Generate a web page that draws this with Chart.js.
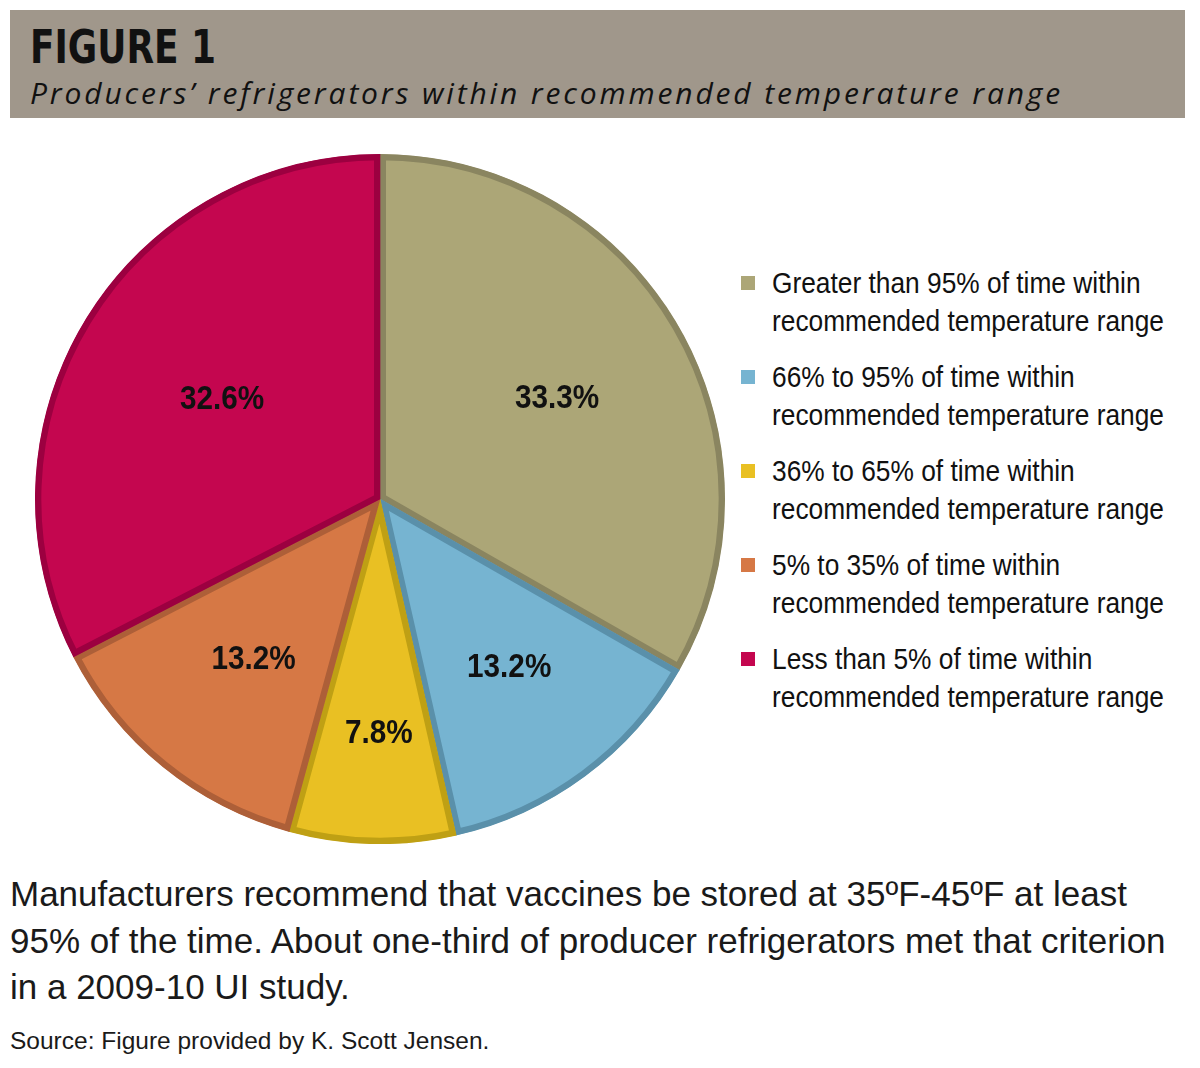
<!DOCTYPE html>
<html>
<head>
<meta charset="utf-8">
<script src="https://cdn.jsdelivr.net/npm/chart.js@4/dist/chart.umd.min.js"></script>
<style>
  body { margin: 0; width: 1200px; height: 1068px; background: #fff; position: relative; overflow: hidden; }
  .header { position: absolute; left: 10px; top: 10px; width: 1175px; height: 108px; background: #a0978b; }
  .header h1 { position: absolute; left: 20px; top: 9px; margin: 0; font: bold 47px "DejaVu Sans Condensed", sans-serif; color: #111; transform-origin: 0 0; }
  .header h2 { position: absolute; left: 20px; top: 62px; margin: 0; font: italic 30px "Open Sans", sans-serif; font-weight: 400; color: #111; letter-spacing: 2.85px; }
  #pieBox { position: absolute; left: 35px; top: 154px; width: 690px; height: 690px; }
  #legend { position: absolute; left: 741px; top: 264px; }
  .item { position: relative; height: 94px; }
  .swatch { position: absolute; left: 0; top: 12px; width: 14px; height: 14px; }
  .txt { position: absolute; left: 31px; top: 0; font: 30px "Liberation Sans", Arial, sans-serif; line-height: 38px; color: #111; white-space: nowrap; transform-origin: 0 0; }
  .caption { position: absolute; left: 10px; top: 871px; font: 35px "Liberation Sans", Arial, sans-serif; line-height: 46.5px; color: #1a1a1a; white-space: nowrap; }
  .source { position: absolute; left: 10px; top: 1027px; font: 24.5px "Liberation Sans", Arial, sans-serif; color: #1a1a1a; white-space: nowrap; }
</style>
</head>
<body>
<div class="header">
  <h1 id="figTitle">FIGURE 1</h1>
  <h2>Producers’ refrigerators within recommended temperature range</h2>
</div>
<div id="pieBox"><canvas id="pieChart"></canvas></div>
<div id="legend"></div>
<div class="caption">Manufacturers recommend that vaccines be stored at 35ºF-45ºF at least<br>95% of the time. About one-third of producer refrigerators met that criterion<br>in a 2009-10 UI study.</div>
<div class="source">Source: Figure provided by K. Scott Jensen.</div>

<script>
// Dati del grafico
const categories = [
    'Greater than 95% of time within',
    '66% to 95% of time within',
    '36% to 65% of time within',
    '5% to 35% of time within',
    'Less than 5% of time within'
];
const legendSecondLine = 'recommended temperature range';
const shares = [33.3, 13.2, 7.8, 13.2, 32.6];

const fillColors = ['#aca677', '#76b4d1', '#e9c023', '#d67845', '#c4064f'];
const edgeColors = ['#8a8560', '#5a90aa', '#bfa014', '#ad5f38', '#9c0040'];
// distanza dell'etichetta dal centro (frazione del raggio)
const labelRadius = [0.58, 0.61, 0.68, 0.6, 0.55];

// Comprime orizzontalmente un elemento fino alla larghezza voluta
function squeezeTo(el, width) {
    const w = el.getBoundingClientRect().width;
    el.style.transform = 'scaleX(' + (width / w) + ')';
}

// Plugin per le etichette percentuali dentro le fette
const sliceLabels = {
    id: 'sliceLabels',
    afterDatasetsDraw(chart) {
        const ctx = chart.ctx;
        const meta = chart.getDatasetMeta(0);
        ctx.save();
        ctx.font = 'bold 33px "Liberation Sans", Arial, sans-serif';
        ctx.fillStyle = '#111';
        ctx.textBaseline = 'middle';
        ctx.textAlign = 'center';
        meta.data.forEach(function(arc, i) {
            const mid = (arc.startAngle + arc.endAngle) / 2;
            const r = arc.outerRadius * labelRadius[i];
            ctx.save();
            ctx.translate(arc.x + Math.cos(mid) * r + 4, arc.y + Math.sin(mid) * r);
            ctx.scale(0.9, 1);
            ctx.fillText(shares[i].toFixed(1) + '%', 0, 0);
            ctx.restore();
        });
        ctx.restore();
    }
};

function initPieChart() {
    const ctx = document.getElementById('pieChart').getContext('2d');
    new Chart(ctx, {
        type: 'pie',
        data: {
            labels: categories,
            datasets: [{
                data: shares,
                backgroundColor: fillColors,
                borderColor: edgeColors,
                borderWidth: 6,
                borderAlign: 'inner',
                hoverOffset: 0,
                offset: 0
            }]
        },
        options: {
            responsive: true,
            maintainAspectRatio: false,
            animation: false,
            events: [],
            layout: { padding: 0 },
            plugins: {
                legend: { display: false },
                tooltip: { enabled: false }
            }
        },
        plugins: [sliceLabels]
    });
}

function buildLegend() {
    const box = document.getElementById('legend');
    categories.forEach(function(label, i) {
        const item = document.createElement('div');
        item.className = 'item';
        item.innerHTML = '<div class="swatch" style="background:' + fillColors[i] + '"></div>' +
            '<div class="txt">' + label + '<br><span>' + legendSecondLine + '</span></div>';
        box.appendChild(item);
    });
    // la seconda riga misura 392px nel riferimento
    const span = box.querySelector('.txt span');
    const scale = 392 / span.getBoundingClientRect().width;
    box.querySelectorAll('.txt').forEach(function(t) {
        t.style.transform = 'scaleX(' + scale + ')';
    });
}

buildLegend();
squeezeTo(document.getElementById('figTitle'), 186);
initPieChart();
</script>
</body>
</html>
